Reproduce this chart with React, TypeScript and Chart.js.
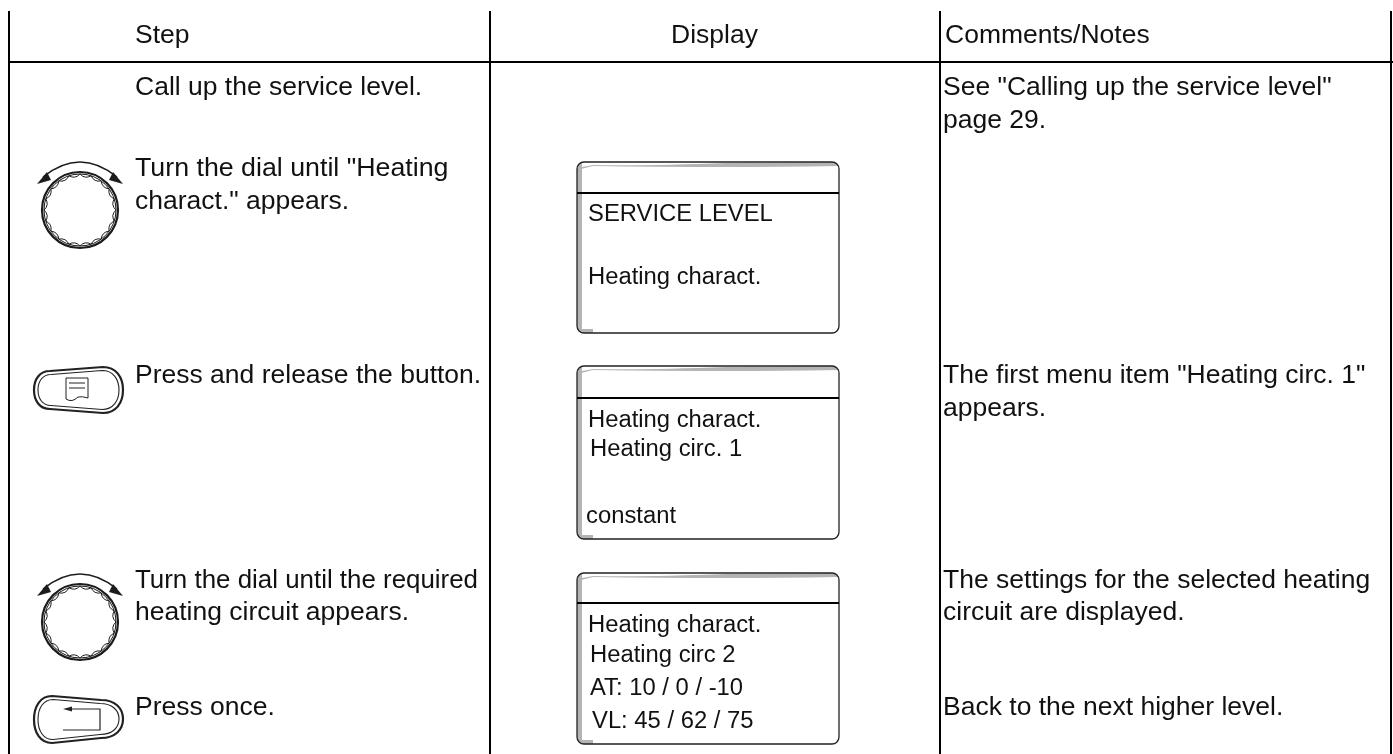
import React, { useEffect, useRef } from "react";
import { Chart, registerables } from "chart.js";

Chart.register(...registerables);

// ---- table content ----
const headers = ["Step", "Display", "Comments/Notes"];
const stepTexts = [
  "Call up the service level.",
  'Turn the dial until "Heating',
  'charact." appears.',
  "Press and release the button.",
  "Turn the dial until the required",
  "heating circuit appears.",
  "Press once.",
];
const displayTexts = [
  "SERVICE LEVEL",
  "Heating charact.",
  "Heating charact.",
  "Heating circ. 1",
  "constant",
  "Heating charact.",
  "Heating circ 2",
  "AT: 10 / 0 / -10",
  "VL: 45 / 62 / 75",
];
const commentTexts = [
  'See "Calling up the service level"',
  "page 29.",
  'The first menu item "Heating circ. 1"',
  "appears.",
  "The settings for the selected heating",
  "circuit are displayed.",
  "Back to the next higher level.",
];

// ---- layout, in page pixels (the hidden axes run 0..1393 and 0..754) ----
const headerPos = [[135, 42.5], [671, 42.5], [945, 42.5]];
const stepPos = [[135, 95], [135, 176], [135, 209], [135, 383], [135, 588], [135, 620], [135, 715]];
const stepFit = [1, 1.01, 1, 1, 0.977, 1, 1];
const displayPos = [[588, 221], [588, 284], [588, 427], [590, 456], [586, 523], [588, 632], [590, 662], [590, 695], [592, 728]];
const commentPos = [[943, 95], [943, 128], [943, 383], [943, 416], [943, 588], [943, 620], [943, 715]];
const rules = [
  [[9, 11], [9, 754]],
  [[490, 11], [490, 754]],
  [[940, 11], [940, 754]],
  [[1391, 11], [1391, 754]],
  [[9, 62], [1393, 62]],
];
const boxes = [[577, 162, 839, 333, 193], [577, 366, 839, 539, 398], [577, 573, 839, 744, 603]];
const dials = [[80, 210], [80, 622]];

const FONT = '"Liberation Sans", Arial, sans-serif';
const BODY_SIZE = 25;
const BODY_STRETCH = 1.06;
const DISPLAY_SIZE = 23;
const DISPLAY_STRETCH = 1.035;

const drawPlugin = {
  id: "sheet",
  beforeDatasetsDraw(chart: any) {
    const { ctx, scales } = chart;
    const X = (v: number) => scales.x.getPixelForValue(v);
    const Y = (v: number) => scales.y.getPixelForValue(v);

    // display boxes
    boxes.forEach(([l, t, r, b, d]) => {
      const x0 = X(l), y0 = Y(t), x1 = X(r), y1 = Y(b), yd = Y(d);
      ctx.save();
      ctx.beginPath();
      ctx.roundRect(x0, y0, x1 - x0, y1 - y0, 7);
      ctx.save();
      ctx.clip();
      ctx.fillStyle = "#b4b4b4";
      ctx.fillRect(x0, y0, 5, y1 - y0);
      ctx.fillRect(x0, y1 - 4, 16, 4);
      ctx.beginPath();
      ctx.moveTo(x0, y0 + 6);
      ctx.lineTo(x0 + 16, y0 + 3);
      ctx.quadraticCurveTo(x0 + 70, y0 + 4, x0 + 150, y0 + 1);
      ctx.lineTo(x1, y0);
      ctx.lineTo(x1, y0 + 4);
      ctx.quadraticCurveTo(x0 + 150, y0 + 6, x0 + 16, y0 + 4);
      ctx.lineTo(x0, y0 + 8);
      ctx.closePath();
      ctx.fill();
      ctx.restore();
      ctx.beginPath();
      ctx.roundRect(x0, y0, x1 - x0, y1 - y0, 7);
      ctx.strokeStyle = "#222";
      ctx.lineWidth = 1.3;
      ctx.stroke();
      ctx.beginPath();
      ctx.moveTo(x0, yd);
      ctx.lineTo(x1, yd);
      ctx.strokeStyle = "#000";
      ctx.lineWidth = 2;
      ctx.stroke();
      ctx.restore();
    });

    // dials
    dials.forEach(([cx, cy]) => {
      const px = X(cx), py = Y(cy);
      ctx.save();
      ctx.strokeStyle = "#1c1c1c";
      ctx.lineWidth = 2.2;
      ctx.beginPath();
      ctx.arc(px, py, 38, 0, Math.PI * 2);
      ctx.stroke();
      ctx.lineWidth = 1;
      const n = 20;
      ctx.beginPath();
      ctx.arc(px, py, 36, 0, Math.PI * 2);
      ctx.stroke();
      ctx.beginPath();
      for (let i = 0; i < n; i++) {
        const a0 = (i / n) * Math.PI * 2;
        const a1 = ((i + 1) / n) * Math.PI * 2;
        const am = (a0 + a1) / 2;
        ctx.moveTo(px + 36 * Math.cos(a0), py + 36 * Math.sin(a0));
        ctx.quadraticCurveTo(px + 31 * Math.cos(am), py + 31 * Math.sin(am), px + 36 * Math.cos(a1), py + 36 * Math.sin(a1));
      }
      ctx.stroke();
      // turning arrow
      ctx.lineWidth = 1.6;
      ctx.beginPath();
      ctx.moveTo(px - 37, py - 33);
      ctx.quadraticCurveTo(px, py - 63, px + 37, py - 33);
      ctx.stroke();
      ctx.fillStyle = "#1c1c1c";
      [-1, 1].forEach((s) => {
        ctx.beginPath();
        ctx.moveTo(px + s * 43, py - 26);
        ctx.lineTo(px + s * 33, py - 38);
        ctx.lineTo(px + s * 29, py - 30);
        ctx.closePath();
        ctx.fill();
      });
      ctx.restore();
    });

    // buttons
    ctx.save();
    ctx.strokeStyle = "#222";
    const btn = (l: number, tl: number, bl: number, r: number, tr: number, br: number, ra: number, rb: number) => {
      ctx.beginPath();
      ctx.moveTo(X(l + ra), Y(tl));
      ctx.lineTo(X(r - rb), Y(tr));
      ctx.bezierCurveTo(X(r - rb * 0.35), Y(tr), X(r), Y(tr + (br - tr) * 0.22), X(r), Y((tr + br) / 2));
      ctx.bezierCurveTo(X(r), Y(br - (br - tr) * 0.22), X(r - rb * 0.35), Y(br), X(r - rb), Y(br));
      ctx.lineTo(X(l + ra), Y(bl));
      ctx.bezierCurveTo(X(l + ra * 0.35), Y(bl), X(l), Y(bl - (bl - tl) * 0.22), X(l), Y((tl + bl) / 2));
      ctx.bezierCurveTo(X(l), Y(tl + (bl - tl) * 0.22), X(l + ra * 0.35), Y(tl), X(l + ra), Y(tl));
      ctx.closePath();
      ctx.stroke();
    };
    ctx.lineWidth = 2.2;
    btn(34, 371, 409, 123, 367, 413, 16, 20);
    ctx.lineWidth = 1.1;
    btn(38, 374.5, 405.5, 119, 370.5, 409.5, 13, 17);
    // menu glyph
    ctx.lineWidth = 1;
    ctx.beginPath();
    ctx.moveTo(X(66), Y(378));
    ctx.lineTo(X(88), Y(378));
    ctx.lineTo(X(88), Y(398));
    ctx.quadraticCurveTo(X(82), Y(396), X(78), Y(397));
    ctx.quadraticCurveTo(X(72), Y(403), X(66), Y(399));
    ctx.closePath();
    ctx.moveTo(X(69), Y(383));
    ctx.lineTo(X(85), Y(383));
    ctx.moveTo(X(69), Y(388));
    ctx.lineTo(X(85), Y(388));
    ctx.stroke();

    // back button
    ctx.lineWidth = 2.2;
    btn(34, 696, 743, 123, 700, 738, 18, 22);
    ctx.lineWidth = 1.1;
    btn(38, 699.5, 739.5, 119, 703.5, 734.5, 15, 19);
    ctx.lineWidth = 1.2;
    ctx.beginPath();
    ctx.moveTo(X(70), Y(709));
    ctx.lineTo(X(100), Y(709));
    ctx.lineTo(X(100), Y(730));
    ctx.lineTo(X(63), Y(730));
    ctx.stroke();
    ctx.fillStyle = "#222";
    ctx.beginPath();
    ctx.moveTo(X(63), Y(709));
    ctx.lineTo(X(72), Y(706.5));
    ctx.lineTo(X(72), Y(711.5));
    ctx.closePath();
    ctx.fill();
    ctx.restore();
  },
  afterDatasetsDraw(chart: any) {
    const { ctx, scales } = chart;
    ctx.save();
    ctx.fillStyle = "#111";
    ctx.textBaseline = "alphabetic";
    ctx.textAlign = "left";
    const put = (texts: string[], pos: number[][], size: number, stretch: number, fit?: number[]) => {
      ctx.font = `${size}px ${FONT}`;
      texts.forEach((t, i) => {
        ctx.save();
        ctx.translate(scales.x.getPixelForValue(pos[i][0]), scales.y.getPixelForValue(pos[i][1]));
        ctx.scale(stretch * (fit ? fit[i] : 1), 1);
        ctx.fillText(t, 0, 0);
        ctx.restore();
      });
    };
    put(headers, headerPos, BODY_SIZE, BODY_STRETCH);
    put(stepTexts, stepPos, BODY_SIZE, BODY_STRETCH, stepFit);
    put(displayTexts, displayPos, DISPLAY_SIZE, DISPLAY_STRETCH);
    put(commentTexts, commentPos, BODY_SIZE, BODY_STRETCH);
    ctx.restore();
  },
};

export default function App() {
  const ref = useRef<HTMLCanvasElement>(null);
  useEffect(() => {
    document.body.style.margin = "0";
    document.body.style.background = "#fff";
    const chart = new Chart(ref.current as HTMLCanvasElement, {
      type: "scatter",
      data: {
        datasets: rules.map((r) => ({
          data: r.map(([x, y]) => ({ x, y })),
          showLine: true,
          borderColor: "#000",
          borderWidth: 2,
          pointRadius: 0,
        })),
      },
      options: {
        animation: false,
        responsive: false,
        layout: { padding: 0 },
        plugins: { legend: { display: false }, tooltip: { enabled: false }, title: { display: false } },
        scales: {
          x: { type: "linear", min: 0, max: 1393, display: false },
          y: { type: "linear", min: 0, max: 754, reverse: true, display: false },
        },
      },
      plugins: [drawPlugin],
    } as any);
    return () => chart.destroy();
  }, []);
  return <canvas ref={ref} width={1393} height={754} style={{ display: "block" }} />;
}
